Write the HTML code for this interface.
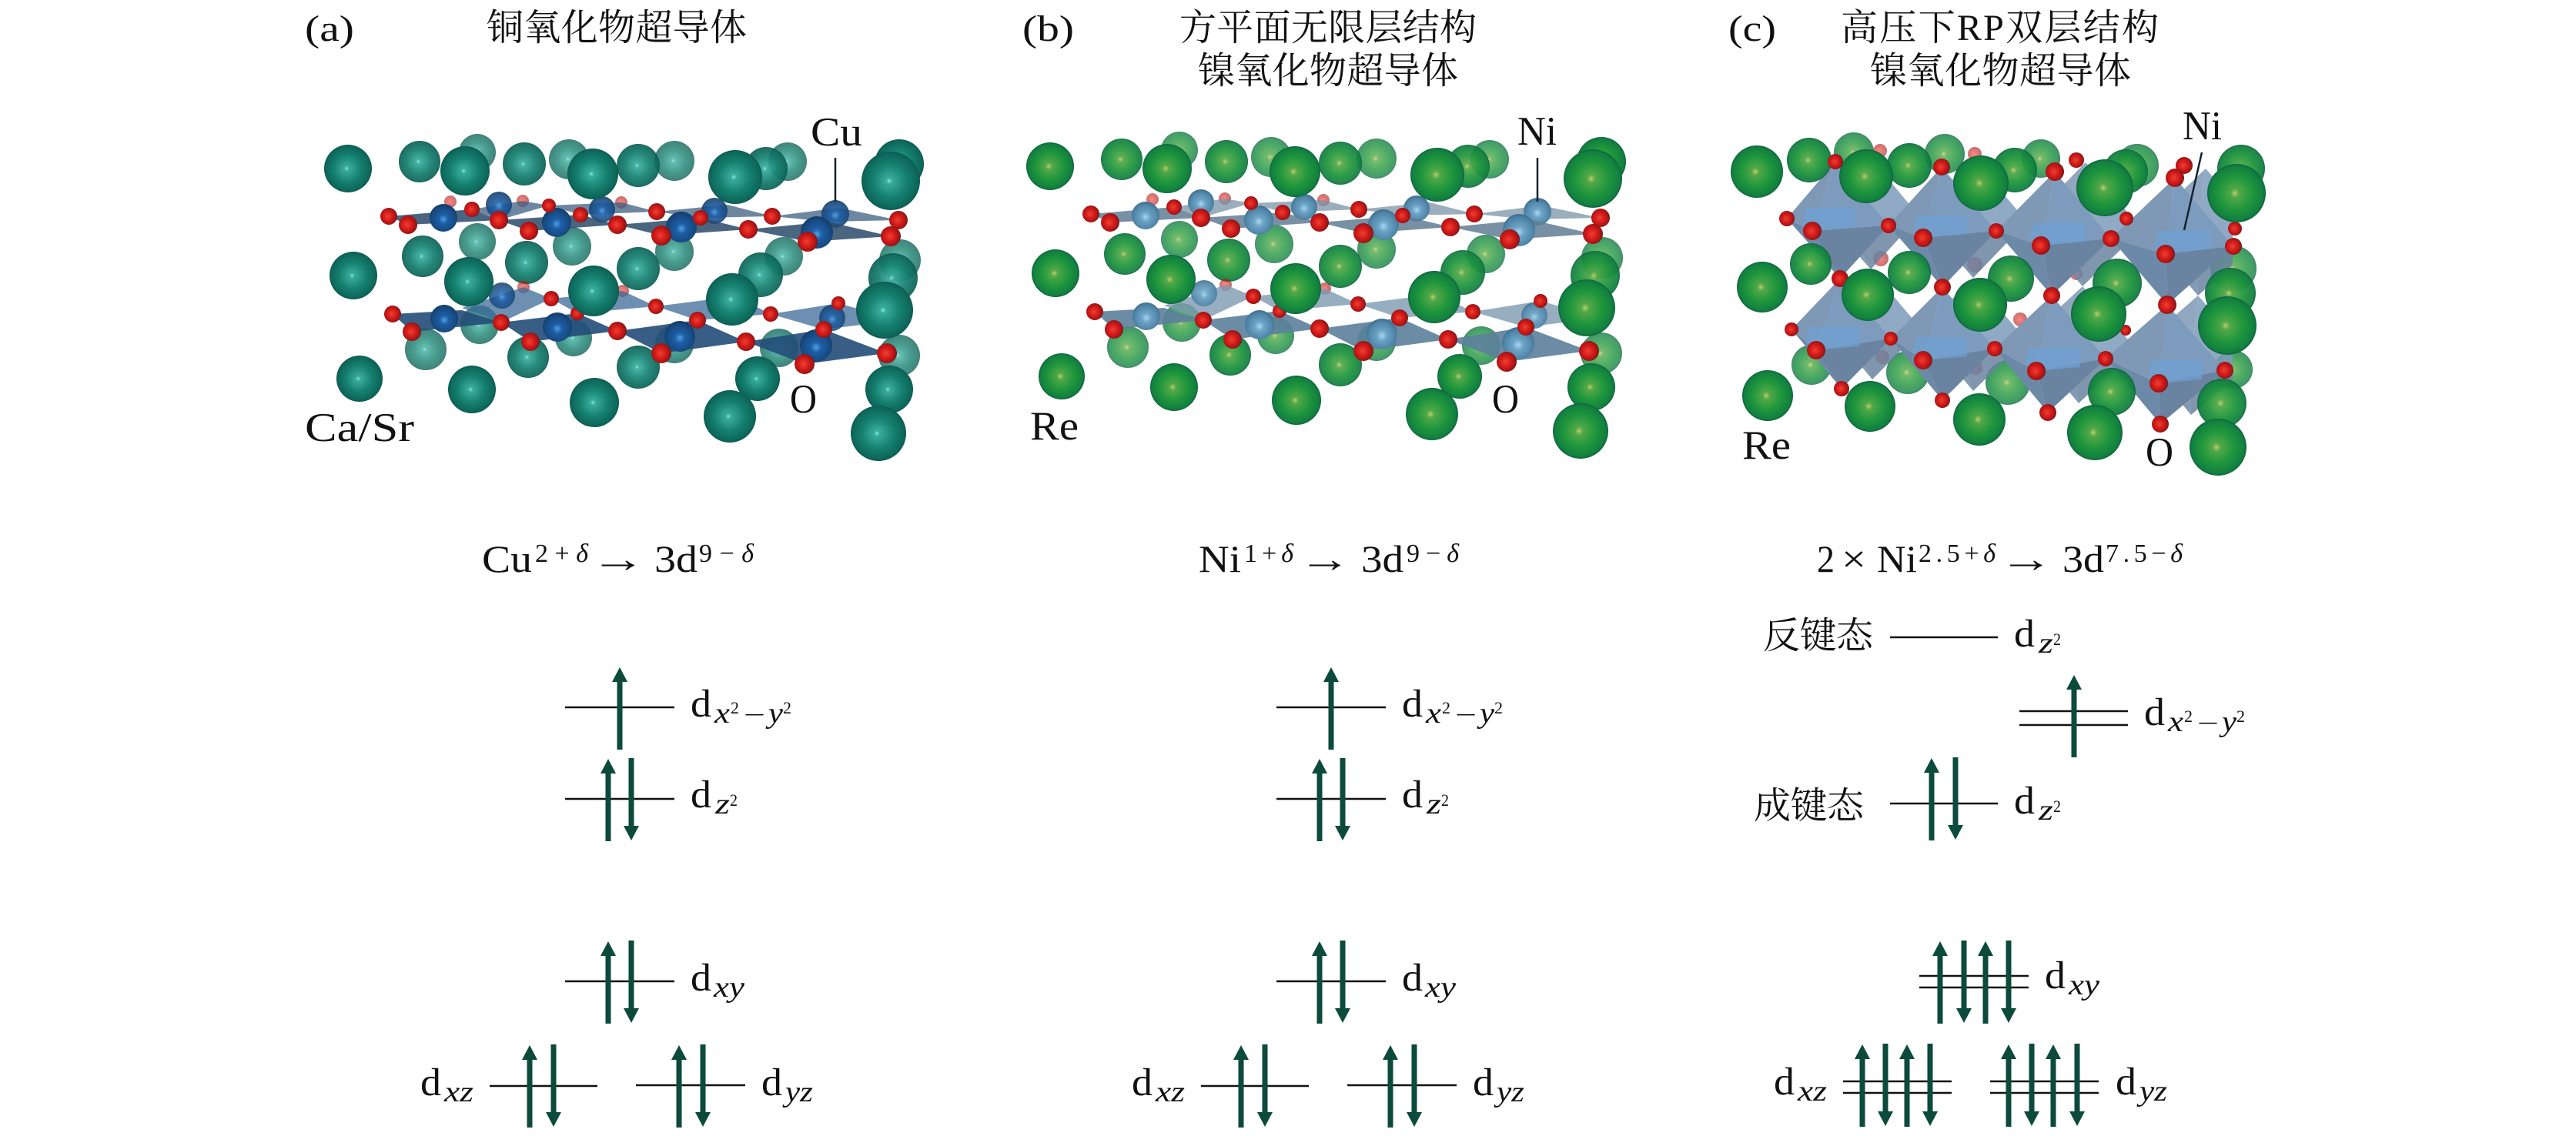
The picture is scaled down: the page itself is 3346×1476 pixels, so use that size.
<!DOCTYPE html>
<html><head><meta charset="utf-8"><style>
html,body{margin:0;padding:0;background:#fff}
svg{display:block}
text{font-family:"Liberation Serif","Noto Serif CJK SC",serif;fill:#111}
.t{font-size:48px;font-family:"Liberation Serif","Noto Serif CJK SC",serif}
.l{font-size:53px}
.f{font-size:50px}
.s{font-size:34px}
.d{font-size:51px}
.i{font-size:38px;font-style:italic}
.n{font-size:22px}
</style></head><body>
<svg xmlns="http://www.w3.org/2000/svg" width="3346" height="1476" viewBox="0 0 3346 1476">
<defs>
<radialGradient id="t" cx=".5" cy=".5" r=".52" fx=".47" fy=".5"><stop offset="0" stop-color="#7fe8dc"/><stop offset=".1" stop-color="#39ab9b"/><stop offset=".55" stop-color="#15806f"/><stop offset=".9" stop-color="#0d665a"/><stop offset="1" stop-color="#0a4f48"/></radialGradient>
<radialGradient id="g" cx=".5" cy=".5" r=".52" fx=".47" fy=".5"><stop offset="0" stop-color="#bfcc66"/><stop offset=".14" stop-color="#52a848"/><stop offset=".55" stop-color="#1f963c"/><stop offset=".88" stop-color="#128040"/><stop offset="1" stop-color="#0d5a3a"/></radialGradient>
<radialGradient id="cu" cx=".5" cy=".55" r=".55"><stop offset="0" stop-color="#4f9fe0"/><stop offset=".3" stop-color="#1d5ea6"/><stop offset=".8" stop-color="#17497f"/><stop offset="1" stop-color="#123a66"/></radialGradient>
<radialGradient id="ni" cx=".5" cy=".55" r=".55"><stop offset="0" stop-color="#a8d8f0"/><stop offset=".3" stop-color="#6ca3c6"/><stop offset=".8" stop-color="#4f84a6"/><stop offset="1" stop-color="#3d6c8c"/></radialGradient>
<radialGradient id="ox" cx=".45" cy=".5" r=".55"><stop offset="0" stop-color="#ee4030"/><stop offset=".55" stop-color="#d01818"/><stop offset=".9" stop-color="#9a1616"/><stop offset="1" stop-color="#5a1a1a"/></radialGradient>
<clipPath id="cc"><rect x="2250" y="150" width="650" height="430"/></clipPath>

<path id="up" d="M-3.5 107V19H-10L0 0 10 19H3.5V107Z" fill="#0c4a3c"/>
<path id="dn" d="M-3.5 0H3.5V88H10L0 107-10 88H-3.5Z" fill="#0c4a3c"/>

<g id="L">
<circle cx="620" cy="198" r="24"/><circle cx="739" cy="207" r="26"/><circle cx="876" cy="209" r="26"/><circle cx="1023" cy="210" r="25"/>
<circle cx="620" cy="314" r="24"/><circle cx="743" cy="320" r="25"/><circle cx="876" cy="327" r="25"/><circle cx="1018" cy="333" r="25"/><circle cx="1169" cy="338" r="27"/>
<circle cx="623" cy="422" r="25"/><circle cx="745" cy="439" r="24"/><circle cx="876" cy="447" r="25"/><circle cx="1012" cy="452" r="25"/><circle cx="1168" cy="462" r="27"/>
<circle cx="553" cy="454" r="27"/>
</g>
<g id="M">
<circle cx="545" cy="210" r="27"/><circle cx="681" cy="213" r="28"/><circle cx="829" cy="215" r="28"/><circle cx="995" cy="219" r="28"/>
<circle cx="549" cy="333" r="27"/><circle cx="684" cy="341" r="28"/><circle cx="829" cy="349" r="28"/><circle cx="988" cy="357" r="29"/><circle cx="1160" cy="361" r="32"/>
<circle cx="686" cy="464" r="27"/><circle cx="829" cy="477" r="28"/>
</g>
<g id="D1">
<circle cx="459" cy="358" r="31"/><circle cx="609" cy="366" r="32"/><circle cx="771" cy="378" r="33"/><circle cx="951" cy="389" r="34"/><circle cx="1149" cy="403" r="37"/>
<circle cx="467" cy="492" r="30"/><circle cx="613" cy="506" r="31"/><circle cx="772" cy="523" r="32"/><circle cx="984" cy="492" r="29"/><circle cx="948" cy="541" r="34"/><circle cx="1155" cy="506" r="31"/><circle cx="1141" cy="563" r="36"/>
</g>
<g id="D2">
<circle cx="452" cy="219" r="31"/><circle cx="604" cy="222" r="32"/><circle cx="770" cy="226" r="33"/><circle cx="955" cy="230" r="35"/><circle cx="1168" cy="213" r="32"/><circle cx="1157" cy="235" r="38"/>
</g>
<path id="PLb" d="M600 400L680 373 716 388 651 419ZM716 388L809 378 852 398 750 407ZM852 398L955 385 1001 408 906 416ZM1001 408L1089 394 1167 416 1070 428Z"/>
<path id="PLf" d="M510 408L600 403 651 419 535 431ZM651 419L750 407 802 430 689 444ZM802 430L906 416 969 444 859 459ZM969 444L1070 428 1152 459 1045 473Z"/>
<path id="PUb" d="M613 272L679 261 713 267 648 286ZM713 267L807 263 853 275 754 279ZM853 275L945 266 1003 281 910 283ZM1003 281L1090 270 1167 286 1075 288Z"/>
<path id="PUf" d="M505 281L613 272 648 286 530 292ZM648 286L754 279 802 292 687 300ZM802 292L910 283 972 298 859 306ZM972 298L1075 288 1157 307 1049 314Z"/>
<g id="CLb"><circle cx="652" cy="384" r="17"/><circle cx="1081" cy="413" r="17"/></g>
<g id="CLf"><circle cx="577" cy="414" r="18"/><circle cx="724" cy="425" r="19"/><circle cx="883" cy="437" r="20"/><circle cx="1060" cy="449" r="21"/></g>
<g id="CUb"><circle cx="648" cy="266" r="17"/><circle cx="782" cy="272" r="17"/><circle cx="928" cy="274" r="17"/><circle cx="1085" cy="278" r="18"/></g>
<g id="CUf"><circle cx="576" cy="283" r="18"/><circle cx="723" cy="289" r="19"/><circle cx="885" cy="295" r="20"/><circle cx="1061" cy="302" r="21"/></g>
<g id="OL">
<circle cx="510" cy="408" r="11"/><circle cx="535" cy="431" r="12"/><circle cx="651" cy="419" r="11"/><circle cx="689" cy="444" r="12"/><circle cx="716" cy="388" r="10"/><circle cx="750" cy="407" r="9"/><circle cx="802" cy="430" r="12"/><circle cx="852" cy="398" r="10"/><circle cx="859" cy="459" r="13"/><circle cx="906" cy="416" r="11"/><circle cx="969" cy="444" r="12"/><circle cx="1001" cy="408" r="10"/><circle cx="1045" cy="473" r="13"/><circle cx="1070" cy="428" r="11"/><circle cx="1089" cy="394" r="9"/><circle cx="1152" cy="459" r="13"/>
</g>
<g id="OU">
<circle cx="505" cy="281" r="11"/><circle cx="530" cy="292" r="12"/><circle cx="613" cy="272" r="10"/><circle cx="648" cy="286" r="12"/><circle cx="687" cy="300" r="12"/><circle cx="713" cy="267" r="9"/><circle cx="754" cy="279" r="10"/><circle cx="802" cy="292" r="12"/><circle cx="853" cy="275" r="11"/><circle cx="859" cy="306" r="13"/><circle cx="910" cy="283" r="10"/><circle cx="972" cy="298" r="12"/><circle cx="1003" cy="281" r="11"/><circle cx="1049" cy="314" r="13"/><circle cx="1167" cy="286" r="12"/><circle cx="1157" cy="307" r="13"/>
</g>
<g id="OB"><circle cx="585" cy="262" r="8"/><circle cx="679" cy="261" r="8"/><circle cx="807" cy="263" r="8"/><circle cx="680" cy="373" r="8"/><circle cx="809" cy="378" r="8"/></g>

<g id="oct">
<path fill="#7e98b5" d="M2384 210L2321 284 2354 300ZM2522 217L2453 293 2498 309ZM2669 223L2593 300 2651 319ZM2825 231L2742 310 2813 330ZM2390 362L2327 428 2359 455ZM2523 373L2456 440 2498 468ZM2665 384L2591 453 2645 482ZM2815 396L2735 466 2804 498Z"/>
<path fill="#7d9cbd" d="M2384 210L2354 300 2453 293ZM2522 217L2498 309 2593 300ZM2669 223L2651 319 2742 310ZM2825 231L2813 330 2901 320ZM2390 362L2359 455 2456 440ZM2523 373L2498 468 2591 453ZM2665 384L2645 482 2735 466ZM2815 396L2804 498 2890 481Z"/>
<path fill="#6d89a8" d="M2321 284L2354 300 2390 362ZM2453 293L2498 309 2523 373ZM2593 300L2651 319 2665 384ZM2742 310L2813 330 2815 396ZM2327 428L2359 455 2392 505ZM2456 440L2498 468 2523 520ZM2591 453L2645 482 2660 536ZM2735 466L2804 498 2806 551Z"/>
<path fill="#6a83a0" d="M2354 300L2453 293 2390 362ZM2498 309L2593 300 2523 373ZM2651 319L2742 310 2665 384ZM2813 330L2901 320 2815 396ZM2359 455L2456 440 2392 505ZM2498 468L2591 453 2523 520ZM2645 482L2735 466 2660 536ZM2804 498L2890 481 2806 551Z"/>
</g>
<path id="octp" fill="#6ea1d4" opacity=".7" d="M2346 270H2410V295L2354 300 2340 292ZM2490 280H2555V304L2498 309 2484 300ZM2642 290H2708V314L2651 319 2636 310ZM2804 300H2870V323L2813 330 2798 320ZM2350 425H2415V450L2359 455 2345 445ZM2490 438H2555V463L2498 468 2484 458ZM2636 452H2702V477L2645 482 2630 472ZM2795 468H2860V493L2804 498 2790 488Z"/>
</defs>

<rect width="3346" height="1476" fill="#fff"/>

<!-- panel a structure -->
<use href="#L" fill="url(#t)" opacity=".78"/>
<use href="#M" fill="url(#t)" opacity=".93"/>
<use href="#OB" fill="url(#ox)" opacity=".6"/>
<use href="#PLb" fill="#3c6b98" opacity=".75"/>
<use href="#CLb" fill="url(#cu)" opacity=".85"/>
<use href="#PLf" fill="#234d78" opacity=".9"/>
<use href="#CLf" fill="url(#cu)"/>
<use href="#OL" fill="url(#ox)"/>
<use href="#D1" fill="url(#t)"/>
<use href="#PUb" fill="#3c5f82" opacity=".75"/>
<use href="#CUb" fill="url(#cu)" opacity=".9"/>
<use href="#PUf" fill="#2a4a6a" opacity=".85"/>
<use href="#CUf" fill="url(#cu)"/>
<use href="#OU" fill="url(#ox)"/>
<use href="#D2" fill="url(#t)"/>

<!-- panel b structure -->
<g transform="translate(912,-3)">
<use href="#L" fill="url(#g)" opacity=".78"/>
<use href="#M" fill="url(#g)" opacity=".93"/>
<use href="#OB" fill="url(#ox)" opacity=".6"/>
<use href="#PLb" fill="#7d9ab2" opacity=".8"/>
<use href="#CLb" fill="url(#ni)" opacity=".9"/>
<use href="#PLf" fill="#5c7f9c" opacity=".9"/>
<use href="#CLf" fill="url(#ni)"/>
<use href="#OL" fill="url(#ox)"/>
<use href="#D1" fill="url(#g)"/>
<use href="#PUb" fill="#7a93a8" opacity=".75"/>
<use href="#CUb" fill="url(#ni)"/>
<use href="#PUf" fill="#607d94" opacity=".85"/>
<use href="#CUf" fill="url(#ni)"/>
<use href="#OU" fill="url(#ox)"/>
<use href="#D2" fill="url(#g)"/>
</g>

<!-- panel c structure -->
<g fill="url(#g)" opacity=".8">
<circle cx="2408" cy="198" r="26"/><circle cx="2526" cy="200" r="26"/><circle cx="2651" cy="206" r="25"/><circle cx="2776" cy="215" r="28"/><circle cx="2353" cy="474" r="26"/><circle cx="2478" cy="484" r="28"/><circle cx="2608" cy="497" r="29"/><circle cx="2901" cy="480" r="25"/><circle cx="2901" cy="349" r="30"/>
</g>
<g fill="url(#ox)" opacity=".6">
<circle cx="2442" cy="196" r="9"/><circle cx="2565" cy="200" r="9"/><circle cx="2443" cy="336" r="10"/><circle cx="2565" cy="344" r="10"/><circle cx="2697" cy="356" r="8"/><circle cx="2445" cy="464" r="9"/><circle cx="2566" cy="478" r="9"/><circle cx="2624" cy="415" r="9"/>
</g>
<g clip-path="url(#cc)"><use href="#oct" transform="translate(40,-12)" opacity=".85"/></g>
<use href="#oct"/>
<use href="#octp"/>
<g fill="url(#g)" opacity=".95">
<circle cx="2350" cy="208" r="29"/><circle cx="2480" cy="215" r="29"/><circle cx="2617" cy="221" r="29"/><circle cx="2761" cy="223" r="29"/><circle cx="2911" cy="219" r="31"/>
<circle cx="2352" cy="343" r="27"/><circle cx="2480" cy="354" r="28"/><circle cx="2612" cy="362" r="30"/><circle cx="2750" cy="368" r="32"/><circle cx="2897" cy="381" r="33"/>
<circle cx="2743" cy="509" r="31"/><circle cx="2886" cy="524" r="32"/>
</g>
<g fill="url(#ox)">
<circle cx="2697" cy="208" r="10"/><circle cx="2837" cy="215" r="11"/><circle cx="2762" cy="284" r="9"/><circle cx="2903" cy="297" r="9"/><circle cx="2761" cy="429" r="7"/>
<circle cx="2384" cy="210" r="10"/><circle cx="2522" cy="217" r="11"/><circle cx="2669" cy="223" r="12"/><circle cx="2825" cy="231" r="12"/>
<circle cx="2321" cy="284" r="10"/><circle cx="2354" cy="300" r="12"/><circle cx="2453" cy="293" r="10"/><circle cx="2498" cy="309" r="12"/><circle cx="2593" cy="300" r="10"/><circle cx="2651" cy="319" r="12"/><circle cx="2742" cy="310" r="11"/><circle cx="2813" cy="330" r="12"/><circle cx="2901" cy="320" r="11"/>
<circle cx="2390" cy="362" r="11"/><circle cx="2523" cy="373" r="11"/><circle cx="2665" cy="384" r="11"/><circle cx="2815" cy="396" r="12"/>
<circle cx="2327" cy="428" r="9"/><circle cx="2359" cy="455" r="12"/><circle cx="2456" cy="440" r="9"/><circle cx="2498" cy="468" r="12"/><circle cx="2591" cy="453" r="10"/><circle cx="2645" cy="482" r="12"/><circle cx="2735" cy="466" r="10"/><circle cx="2804" cy="498" r="12"/><circle cx="2890" cy="481" r="11"/>
<circle cx="2392" cy="505" r="10"/><circle cx="2523" cy="520" r="10"/><circle cx="2660" cy="536" r="11"/><circle cx="2806" cy="551" r="11"/>
</g>
<g fill="url(#g)">
<circle cx="2282" cy="223" r="34"/><circle cx="2424" cy="229" r="35"/><circle cx="2573" cy="238" r="36"/><circle cx="2734" cy="244" r="37"/><circle cx="2905" cy="251" r="38"/>
<circle cx="2289" cy="373" r="33"/><circle cx="2426" cy="383" r="34"/><circle cx="2572" cy="396" r="35"/><circle cx="2726" cy="408" r="36"/><circle cx="2893" cy="423" r="38"/>
<circle cx="2296" cy="514" r="33"/><circle cx="2429" cy="528" r="33"/><circle cx="2571" cy="545" r="34"/><circle cx="2721" cy="562" r="36"/><circle cx="2881" cy="581" r="37"/>
</g>

<!-- leaders -->
<g stroke="#123" stroke-width="2.5" fill="none">
<path d="M1085 205V262"/><path d="M1997 205V262"/><path d="M2860 198L2837 299"/>
</g>

<!-- titles -->
<text class="t" x="396" y="53" textLength="64" lengthAdjust="spacingAndGlyphs">(a)</text>
<text class="t" x="632" y="52" textLength="338">铜氧化物超导体</text>
<text class="t" x="1328" y="53" textLength="67" lengthAdjust="spacingAndGlyphs">(b)</text>
<text class="t" x="1532" y="52" textLength="386">方平面无限层结构</text>
<text class="t" x="1556" y="108" textLength="338">镍氧化物超导体</text>
<text class="t" x="2245" y="53" textLength="62" lengthAdjust="spacingAndGlyphs">(c)</text>
<text class="t" x="2391" y="52" textLength="413">高压下RP双层结构</text>
<text class="t" x="2429" y="108" textLength="339">镍氧化物超导体</text>

<!-- structure labels -->
<text class="l" x="1053" y="189" textLength="67" lengthAdjust="spacingAndGlyphs">Cu</text>
<text class="l" x="396" y="573" textLength="142" lengthAdjust="spacingAndGlyphs">Ca/Sr</text>
<text class="l" x="1026" y="536" textLength="35" lengthAdjust="spacingAndGlyphs">O</text>
<text class="l" x="1971" y="188" textLength="51" lengthAdjust="spacingAndGlyphs">Ni</text>
<text class="l" x="1338" y="571" textLength="63" lengthAdjust="spacingAndGlyphs">Re</text>
<text class="l" x="1938" y="536" textLength="35" lengthAdjust="spacingAndGlyphs">O</text>
<text class="l" x="2835" y="181" textLength="51" lengthAdjust="spacingAndGlyphs">Ni</text>
<text class="l" x="2263" y="596" textLength="63" lengthAdjust="spacingAndGlyphs">Re</text>
<text class="l" x="2787" y="605" textLength="36" lengthAdjust="spacingAndGlyphs">O</text>

<!-- formulas -->
<text class="f" x="626" y="743" textLength="65" lengthAdjust="spacingAndGlyphs">Cu</text>
<text class="s" x="695" y="730" textLength="69">2+<tspan font-style="italic">δ</tspan></text>
<text class="f" x="767" y="743" textLength="72" lengthAdjust="spacingAndGlyphs">→</text>
<text class="f" x="850" y="743" textLength="56" lengthAdjust="spacingAndGlyphs">3d</text>
<text class="s" x="908" y="730" textLength="71">9−<tspan font-style="italic">δ</tspan></text>

<text class="f" x="1557" y="743" textLength="55" lengthAdjust="spacingAndGlyphs">Ni</text>
<text class="s" x="1616" y="730" textLength="64">1+<tspan font-style="italic">δ</tspan></text>
<text class="f" x="1687" y="743" textLength="68" lengthAdjust="spacingAndGlyphs">→</text>
<text class="f" x="1768" y="743" textLength="55" lengthAdjust="spacingAndGlyphs">3d</text>
<text class="s" x="1827" y="730" textLength="68">9−<tspan font-style="italic">δ</tspan></text>

<text class="f" x="2360" y="743" textLength="23" lengthAdjust="spacingAndGlyphs">2</text>
<text class="f" x="2392" y="743" textLength="32" lengthAdjust="spacingAndGlyphs">×</text>
<text class="f" x="2438" y="743" textLength="52" lengthAdjust="spacingAndGlyphs">Ni</text>
<text class="s" x="2492" y="730" textLength="100">2.5+<tspan font-style="italic">δ</tspan></text>
<text class="f" x="2597" y="743" textLength="70" lengthAdjust="spacingAndGlyphs">→</text>
<text class="f" x="2679" y="743" textLength="54" lengthAdjust="spacingAndGlyphs">3d</text>
<text class="s" x="2735" y="730" textLength="100">7.5−<tspan font-style="italic">δ</tspan></text>

<text class="t" x="2290" y="842" textLength="143">反键态</text>
<text class="t" x="2278" y="1063" textLength="143">成键态</text>

<!-- level lines -->
<g stroke="#111" stroke-width="2.6" fill="none">
<path d="M734 919H876M734 1038H876M734 1275H876M636 1411H776M826 1410H968"/>
<path d="M1658 919H1800M1658 1038H1800M1658 1275H1800M1560 1411H1700M1750 1410H1892"/>
<path d="M2455 828H2595M2623 924H2764M2623 942H2764M2455 1044H2595M2493 1268H2635M2493 1283H2635M2394 1405H2535M2394 1420H2535M2585 1405H2726M2585 1420H2726"/>
</g>

<!-- arrows a -->
<use href="#up" x="805" y="867"/>
<use href="#up" x="790" y="986"/><use href="#dn" x="820" y="985"/>
<use href="#up" x="790" y="1223"/><use href="#dn" x="820" y="1222"/>
<use href="#up" x="688" y="1358"/><use href="#dn" x="719" y="1357"/>
<use href="#up" x="882" y="1358"/><use href="#dn" x="913" y="1357"/>
<!-- arrows b -->
<use href="#up" x="1729" y="867"/>
<use href="#up" x="1714" y="986"/><use href="#dn" x="1744" y="985"/>
<use href="#up" x="1714" y="1223"/><use href="#dn" x="1744" y="1222"/>
<use href="#up" x="1612" y="1358"/><use href="#dn" x="1643" y="1357"/>
<use href="#up" x="1806" y="1358"/><use href="#dn" x="1837" y="1357"/>
<!-- arrows c -->
<use href="#up" x="2694" y="877"/>
<use href="#up" x="2509" y="985"/><use href="#dn" x="2540" y="984"/>
<use href="#up" x="2520" y="1223"/><use href="#dn" x="2551" y="1222"/><use href="#up" x="2579" y="1223"/><use href="#dn" x="2609" y="1222"/>
<use href="#up" x="2419" y="1357"/><use href="#dn" x="2449" y="1356"/><use href="#up" x="2477" y="1357"/><use href="#dn" x="2507" y="1356"/>
<use href="#up" x="2609" y="1357"/><use href="#dn" x="2639" y="1356"/><use href="#up" x="2667" y="1357"/><use href="#dn" x="2698" y="1356"/>

<!-- orbital labels a -->
<text class="d" x="897" y="931" textLength="27" lengthAdjust="spacingAndGlyphs">d</text><text class="i" x="928" y="939" textLength="20" lengthAdjust="spacingAndGlyphs">x</text><text class="n" x="949" y="927" textLength="11" lengthAdjust="spacingAndGlyphs">2</text><text class="s" x="966" y="940" textLength="28" lengthAdjust="spacingAndGlyphs">−</text><text class="i" x="998" y="939" textLength="19" lengthAdjust="spacingAndGlyphs">y</text><text class="n" x="1017" y="927" textLength="11" lengthAdjust="spacingAndGlyphs">2</text>
<text class="d" x="897" y="1049" textLength="27" lengthAdjust="spacingAndGlyphs">d</text><text class="i" x="929" y="1057" textLength="19" lengthAdjust="spacingAndGlyphs">z</text><text class="n" x="948" y="1047" textLength="10" lengthAdjust="spacingAndGlyphs">2</text>
<text class="d" x="897" y="1287" textLength="27" lengthAdjust="spacingAndGlyphs">d</text><text class="i" x="927" y="1295" textLength="40" lengthAdjust="spacingAndGlyphs">xy</text>
<text class="d" x="546" y="1423" textLength="27" lengthAdjust="spacingAndGlyphs">d</text><text class="i" x="577" y="1431" textLength="38" lengthAdjust="spacingAndGlyphs">xz</text>
<text class="d" x="989" y="1423" textLength="27" lengthAdjust="spacingAndGlyphs">d</text><text class="i" x="1020" y="1431" textLength="36" lengthAdjust="spacingAndGlyphs">yz</text>
<!-- orbital labels b -->
<text class="d" x="1821" y="931" textLength="27" lengthAdjust="spacingAndGlyphs">d</text><text class="i" x="1852" y="939" textLength="20" lengthAdjust="spacingAndGlyphs">x</text><text class="n" x="1873" y="927" textLength="11" lengthAdjust="spacingAndGlyphs">2</text><text class="s" x="1890" y="940" textLength="28" lengthAdjust="spacingAndGlyphs">−</text><text class="i" x="1922" y="939" textLength="19" lengthAdjust="spacingAndGlyphs">y</text><text class="n" x="1941" y="927" textLength="11" lengthAdjust="spacingAndGlyphs">2</text>
<text class="d" x="1821" y="1049" textLength="27" lengthAdjust="spacingAndGlyphs">d</text><text class="i" x="1853" y="1057" textLength="19" lengthAdjust="spacingAndGlyphs">z</text><text class="n" x="1872" y="1047" textLength="10" lengthAdjust="spacingAndGlyphs">2</text>
<text class="d" x="1821" y="1287" textLength="27" lengthAdjust="spacingAndGlyphs">d</text><text class="i" x="1851" y="1295" textLength="40" lengthAdjust="spacingAndGlyphs">xy</text>
<text class="d" x="1470" y="1423" textLength="27" lengthAdjust="spacingAndGlyphs">d</text><text class="i" x="1501" y="1431" textLength="38" lengthAdjust="spacingAndGlyphs">xz</text>
<text class="d" x="1913" y="1423" textLength="27" lengthAdjust="spacingAndGlyphs">d</text><text class="i" x="1944" y="1431" textLength="36" lengthAdjust="spacingAndGlyphs">yz</text>
<!-- orbital labels c -->
<text class="d" x="2616" y="840" textLength="27" lengthAdjust="spacingAndGlyphs">d</text><text class="i" x="2648" y="848" textLength="19" lengthAdjust="spacingAndGlyphs">z</text><text class="n" x="2667" y="838" textLength="10" lengthAdjust="spacingAndGlyphs">2</text>
<text class="d" x="2785" y="942" textLength="27" lengthAdjust="spacingAndGlyphs">d</text><text class="i" x="2816" y="950" textLength="20" lengthAdjust="spacingAndGlyphs">x</text><text class="n" x="2837" y="938" textLength="11" lengthAdjust="spacingAndGlyphs">2</text><text class="s" x="2854" y="951" textLength="28" lengthAdjust="spacingAndGlyphs">−</text><text class="i" x="2886" y="950" textLength="19" lengthAdjust="spacingAndGlyphs">y</text><text class="n" x="2905" y="938" textLength="11" lengthAdjust="spacingAndGlyphs">2</text>
<text class="d" x="2616" y="1057" textLength="27" lengthAdjust="spacingAndGlyphs">d</text><text class="i" x="2648" y="1065" textLength="19" lengthAdjust="spacingAndGlyphs">z</text><text class="n" x="2667" y="1055" textLength="10" lengthAdjust="spacingAndGlyphs">2</text>
<text class="d" x="2656" y="1284" textLength="27" lengthAdjust="spacingAndGlyphs">d</text><text class="i" x="2687" y="1292" textLength="40" lengthAdjust="spacingAndGlyphs">xy</text>
<text class="d" x="2304" y="1422" textLength="27" lengthAdjust="spacingAndGlyphs">d</text><text class="i" x="2335" y="1430" textLength="38" lengthAdjust="spacingAndGlyphs">xz</text>
<text class="d" x="2748" y="1422" textLength="27" lengthAdjust="spacingAndGlyphs">d</text><text class="i" x="2779" y="1430" textLength="36" lengthAdjust="spacingAndGlyphs">yz</text>
</svg>
</body></html>
